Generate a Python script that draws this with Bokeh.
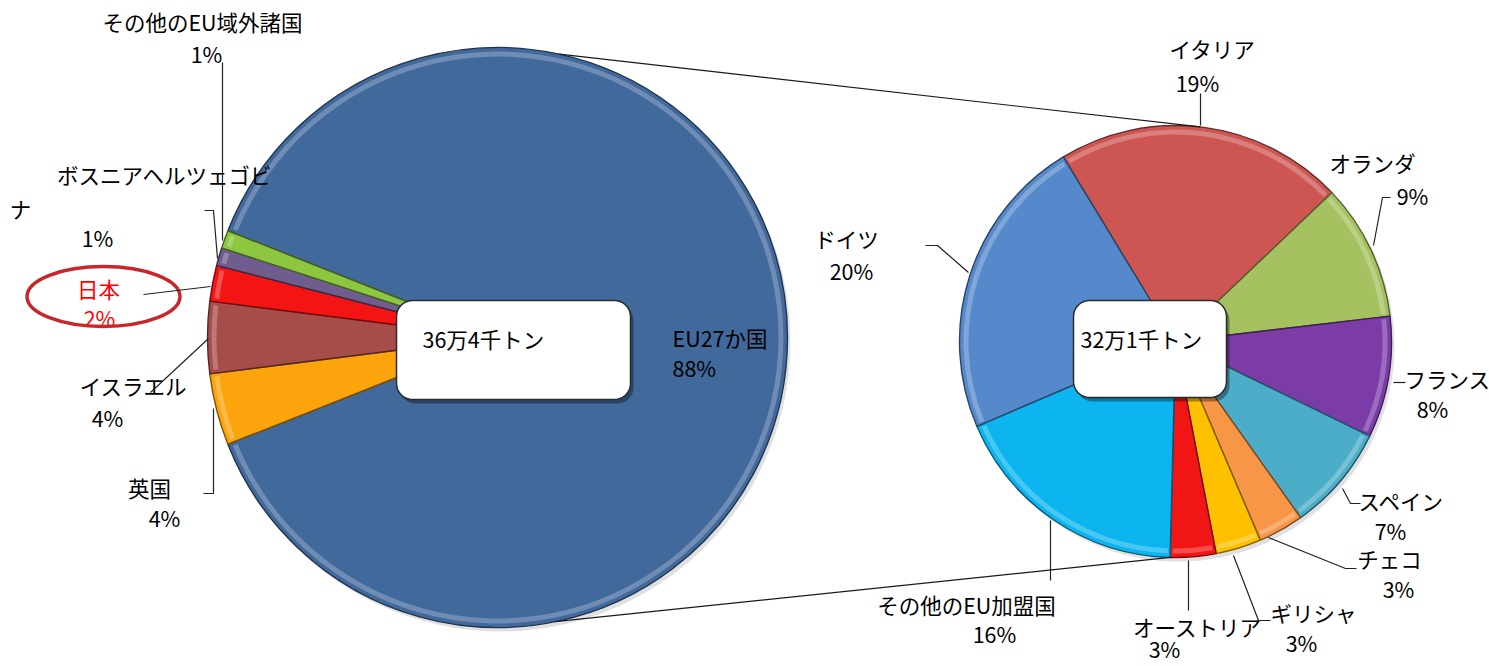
import numpy as np
from bokeh.plotting import figure
from bokeh.models import Range1d, ColumnDataSource
from bokeh.core.properties import value
from bokeh.embed import file_html
from bokeh.resources import INLINE

# ---------------- data ----------------
outer_cats = ["EU27か国", "英国", "イスラエル", "日本", "ボスニアヘルツェゴビナ", "その他のEU域外諸国"]
outer_vals = [88, 4, 4, 2, 1, 1]
outer_total_label = "36万4千トン"

eu_cats = ["イタリア", "オランダ", "フランス", "スペイン", "チェコ", "ギリシャ",
           "オーストリア", "その他のEU加盟国", "ドイツ"]
eu_vals = [19, 9, 8, 7, 3, 3, 3, 16, 20]
eu_total_label = "32万1千トン"

# ---------------- style ----------------
FONT = value("Noto Sans CJK JP")
FS = "21.5px"
outer_colors = ["#41699c", "#fca40c", "#a64c49", "#f41414", "#6f5d8e", "#8dc63f"]
eu_colors = ["#cd5653", "#a5c160", "#7b3ca8", "#4cadc9", "#f79646", "#ffc000",
             "#f21515", "#0cb5f0", "#5689cb"]

L_CX, L_CY, L_R = 497, 337, 290
R_CX, R_CY, R_R = 1175, 341, 216
R_START = 121.3

W, H = 1489, 666


def hexmix(c, t, target):
    c = c.lstrip("#")
    r, g, b = int(c[0:2], 16), int(c[2:4], 16), int(c[4:6], 16)
    r = int(r + (target - r) * t)
    g = int(g + (target - g) * t)
    b = int(b + (target - b) * t)
    return "#%02x%02x%02x" % (r, g, b)


p = figure(width=W, height=H, output_backend="svg", toolbar_location=None,
           x_range=Range1d(0, W), y_range=Range1d(-H, 0),
           min_border=0, background_fill_color="white", border_fill_color="white")
p.axis.visible = False
p.grid.visible = False
p.outline_line_color = None


def draw_pie(cx, cy, r, vals, colors, start_deg):
    total = float(sum(vals))
    cum = np.concatenate([[0], np.cumsum(vals)]) / total * 360.0
    starts = np.radians(start_deg - cum[:-1])
    ends = np.radians(start_deg - cum[1:])
    src = ColumnDataSource(dict(
        s=starts, e=ends, fill=colors,
        line=[hexmix(c, 0.5, 0) for c in colors],
        light=[hexmix(c, 0.45, 255) for c in colors],
    ))
    # soft shadow
    p.wedge(x=cx + 3, y=-cy - 4, radius=r, start_angle="s", end_angle="e",
            direction="clock", source=src, fill_color="#000000", fill_alpha=0.12,
            line_color=None)
    p.wedge(x=cx, y=-cy, radius=r, start_angle="s", end_angle="e", direction="clock",
            source=src, fill_color="fill", line_color="line", line_width=1.4)
    # rim highlight (bevel look)
    src2 = ColumnDataSource(dict(s=starts - 0.012, e=ends + 0.012,
                                 light=src.data["light"]))
    p.annular_wedge(x=cx, y=-cy, inner_radius=r - 9, outer_radius=r - 4,
                    start_angle="s", end_angle="e", direction="clock", source=src2,
                    fill_color="light", fill_alpha=0.55, line_color=None)


draw_pie(L_CX, L_CY, L_R, outer_vals, outer_colors,
         180 - sum(outer_vals[1:]) / sum(outer_vals) * 360 / 2)
draw_pie(R_CX, R_CY, R_R, eu_vals, eu_colors, R_START)

# connector lines between the two pies
conn = [(77.7, 83.4), (-78.5, -91.3)]
cx_list, cy_list = [], []
for a1, a2 in conn:
    a1r, a2r = np.radians(a1), np.radians(a2)
    cx_list.append([L_CX + L_R * np.cos(a1r), R_CX + R_R * np.cos(a2r)])
    cy_list.append([-(L_CY - L_R * np.sin(a1r)), -(R_CY - R_R * np.sin(a2r))])
p.multi_line(xs=cx_list, ys=cy_list, line_color="#1a1a1a", line_width=1.2)


# rounded total boxes
def rounded_box(x0, y0, x1, y1, rad, n=10):
    xs, ys = [], []
    corners = [(x1 - rad, y0 + rad, 90, 0), (x1 - rad, y1 - rad, 0, -90),
               (x0 + rad, y1 - rad, -90, -180), (x0 + rad, y0 + rad, 180, 90)]
    for ccx, ccy, a0, a1 in corners:
        for t in np.linspace(np.radians(a0), np.radians(a1), n):
            xs.append(ccx + rad * np.cos(t))
            ys.append(-(ccy - rad * np.sin(t)))
    return xs, ys


for (bx0, by0, bx1, by1) in [(396, 300, 630, 399), (1073, 300, 1226, 397)]:
    sx, sy = rounded_box(bx0 + 3, by0 + 4, bx1 + 3, by1 + 4, 16)
    p.patch(sx, sy, fill_color="#000000", fill_alpha=0.35, line_color=None)
    bxs, bys = rounded_box(bx0, by0, bx1, by1, 16)
    p.patch(bxs, bys, fill_color="white", line_color="#2b2b2b", line_width=1.5)

p.text(x=[422, 1080], y=[-338, -338], text=[outer_total_label, eu_total_label],
       text_font=FONT, text_font_size=FS, text_color="black",
       text_align="left", text_baseline="middle")

# ---------------- labels ----------------
# positions (px) of name / percent label centres
outer_pos = {
    "英国": (149, 487, 164, 517),
    "イスラエル": (133, 385, 107, 417),
    "日本": (98, 288, 99, 317),
    "その他のEU域外諸国": (202, 21, 206, 53),
}
eu_pos = {
    "イタリア": (1212, 48, 1197, 82),
    "オランダ": (1372, 162, 1412, 195),
    "フランス": (1447, 378, 1432, 408),
    "スペイン": (1401, 500, 1390, 530),
    "チェコ": (1389, 558, 1398, 588),
    "ギリシャ": (1313, 612, 1301, 642),
    "オーストリア": (1197, 626, 1164, 648),
    "その他のEU加盟国": (966, 604, 994, 633),
    "ドイツ": (846, 238, 851, 270),
}

tx, ty, tt, tc = [], [], [], []
for cat, v in zip(outer_cats, outer_vals):
    if cat in outer_pos:
        nx, ny, px_, py_ = outer_pos[cat]
        col = "#ff0000" if cat == "日本" else "black"
        tx += [nx, px_]
        ty += [-ny, -py_]
        tt += [cat, f"{v}%"]
        tc += [col, col]
for cat, v in zip(eu_cats, eu_vals):
    nx, ny, px_, py_ = eu_pos[cat]
    tx += [nx, px_]
    ty += [-ny, -py_]
    tt += [cat, f"{v}%"]
    tc += ["black", "black"]

# wrapped label (as in the original)
bos = outer_cats[4]
bos_v = outer_vals[4]
tx += [164, 20, 97]
ty += [-174, -208, -237]
tt += [bos[:-1], bos[-1], f"{bos_v}%"]
tc += ["black", "black", "black"]

p.text(x=tx, y=ty, text=tt, text_color=tc, text_font=FONT, text_font_size=FS,
       text_align="center", text_baseline="middle")

# EU27 label, left aligned inside slice
eu_lbl = outer_cats[0]
p.text(x=[672, 672], y=[-337, -367], text=[eu_lbl, f"{outer_vals[0]}%"],
       text_font=FONT, text_font_size=FS, text_color="black",
       text_align="left", text_baseline="middle")

# red ellipse around Japan
p.ellipse(x=[103], y=[-296], width=153, height=60, fill_color=None,
          line_color="#c8262b", line_width=3.5)

# leader lines
leaders = [
    [(222, 62), (222, 240)],
    [(204, 210), (213, 210), (217, 258)],
    [(143, 294), (210, 286)],
    [(208, 338), (150, 392)],
    [(213, 408), (213, 493), (203, 493)],
    [(1200, 93), (1200, 125)],
    [(1390, 197), (1382, 197), (1373, 245)],
    [(925, 245), (937, 245), (968, 272)],
    [(1393, 382), (1405, 382)],
    [(1342, 488), (1350, 503), (1360, 503)],
    [(1268, 537), (1345, 568), (1356, 568)],
    [(1233, 555), (1258, 620), (1270, 620)],
    [(1188, 560), (1188, 610)],
    [(1050, 520), (1050, 580)],
]
p.multi_line(xs=[[pt[0] for pt in l] for l in leaders],
             ys=[[-pt[1] for pt in l] for l in leaders],
             line_color="#222222", line_width=1.2)

open("out.html", "w").write(file_html(p, INLINE))
